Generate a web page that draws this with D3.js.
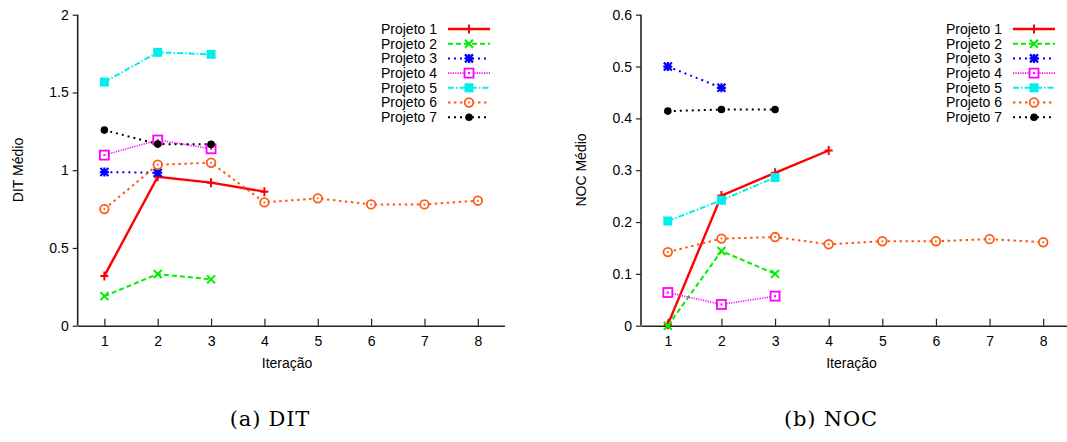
<!DOCTYPE html>
<html>
<head>
<meta charset="utf-8">
<script src="https://cdn.jsdelivr.net/npm/d3@7/dist/d3.min.js"></script>
<style>
  body { margin: 0; background: #fff; }
  svg { display: block; }
  text { font-family: "Liberation Sans", Arial, sans-serif; fill: #000; }
  .caption { font-family: "DejaVu Serif", "Liberation Serif", serif; }
</style>
</head>
<body>
<svg id="chart" width="1067" height="442"></svg>
<script>
// chart data
var iterations = [1, 2, 3, 4, 5, 6, 7, 8];
var projects = ["Projeto 1", "Projeto 2", "Projeto 3", "Projeto 4", "Projeto 5", "Projeto 6", "Projeto 7"];

var ditValues = [
    [0.32, 0.958, 0.92, 0.862],
    [0.19, 0.332, 0.298],
    [0.988, 0.984],
    [1.097, 1.194, 1.138],
    [1.567, 1.758, 1.745],
    [0.75, 1.035, 1.048, 0.793, 0.819, 0.78, 0.78, 0.804],
    [1.258, 1.168, 1.166]
];
var nocValues = [
    [0.002, 0.251, 0.295, 0.338],
    [0.0, 0.144, 0.1],
    [0.5, 0.459],
    [0.064, 0.041, 0.057],
    [0.202, 0.242, 0.286],
    [0.142, 0.168, 0.171, 0.157, 0.163, 0.163, 0.167, 0.161],
    [0.414, 0.417, 0.417]
];
var ditTicks = [0, 0.5, 1, 1.5, 2];
var nocTicks = [0, 0.1, 0.2, 0.3, 0.4, 0.5, 0.6];

// gnuplot-like line styles
var styles = [
    { color: "#ff0000", dash: null,        width: 2.4, mark: "plus" },
    { color: "#00ee00", dash: "5,3",       width: 2,   mark: "cross" },
    { color: "#0000ff", dash: "2,4",       width: 2,   mark: "star" },
    { color: "#ff00ff", dash: "1.2,1.2",   width: 1.6, mark: "box" },
    { color: "#00eeee", dash: "6,2,1.5,2", width: 2,   mark: "fbox" },
    { color: "#ff5a14", dash: "2.5,3.5",   width: 2,   mark: "circle" },
    { color: "#000000", dash: "2,4",       width: 2,   mark: "fcircle" }
];

var svg = d3.select("#chart");

function drawMarker (g, type, color) {
    if (type === "plus") {
        g.append("path").attr("d", "M-4,0H4M0,-4.5V4.5").attr("stroke", color).attr("stroke-width", 2).attr("fill", "none");
    } else if (type === "cross") {
        g.append("path").attr("d", "M-4,-4L4,4M-4,4L4,-4").attr("stroke", color).attr("stroke-width", 2).attr("fill", "none");
    } else if (type === "star") {
        g.append("path").attr("d", "M-4,-4L4,4M-4,4L4,-4M-4.5,0H4.5M0,-4.5V4.5").attr("stroke", color).attr("stroke-width", 2.2).attr("fill", "none");
    } else if (type === "box") {
        g.append("rect").attr("x", -4.5).attr("y", -4.5).attr("width", 9).attr("height", 9).attr("stroke", color).attr("stroke-width", 1.8).attr("fill", "#fff");
        g.append("rect").attr("x", -1).attr("y", -1).attr("width", 2).attr("height", 2).attr("fill", color);
    } else if (type === "fbox") {
        g.append("rect").attr("x", -4.5).attr("y", -4.5).attr("width", 9).attr("height", 9).attr("fill", color);
    } else if (type === "circle") {
        g.append("circle").attr("r", 4.3).attr("stroke", color).attr("stroke-width", 1.8).attr("fill", "#fff");
        g.append("circle").attr("r", 1).attr("fill", color);
    } else if (type === "fcircle") {
        g.append("circle").attr("r", 3.8).attr("fill", color);
    }
}

function drawPanel (opt) {
    var x = d3.scaleLinear().domain([0.5, 8.5]).range([opt.left, opt.right]);
    var y = d3.scaleLinear().domain([0, opt.ymax]).range([325.7, 14.7]);

    var g = svg.append("g");

    // axes
    var yAxis = g.append("g")
        .attr("transform", "translate(" + opt.left + ",0)")
        .call(d3.axisLeft(y).tickValues(opt.ticks).tickSize(4).tickPadding(5).tickFormat(d3.format("")));
    var xAxis = g.append("g")
        .attr("transform", "translate(0,325.7)")
        .call(d3.axisBottom(x).tickValues(iterations).tickSizeInner(-7).tickSizeOuter(0).tickPadding(10));
    [yAxis, xAxis].forEach(function (a) {
        a.select(".domain").attr("stroke", "#222").attr("stroke-width", 1.6);
        a.selectAll(".tick line").attr("stroke", "#222").attr("stroke-width", 1.2);
        a.selectAll("text").attr("font-size", 14).attr("font-family", "Liberation Sans, Arial, sans-serif").attr("fill", "#111");
    });
    yAxis.select(".domain").attr("d", "M0," + y(opt.ymax) + "V" + y(0));
    yAxis.selectAll(".tick line").attr("x2", -5);

    g.append("text")
        .attr("transform", "translate(" + opt.ytitleX + ",170) rotate(-90)")
        .attr("text-anchor", "middle")
        .attr("dy", "0.35em")
        .attr("font-size", 14)
        .text(opt.ytitle);
    g.append("text")
        .attr("x", (opt.left + opt.right) / 2 - 4)
        .attr("y", 363)
        .attr("text-anchor", "middle")
        .attr("dy", "0.35em")
        .attr("font-size", 14)
        .text("Iteração");

    // series
    var line = d3.line().x(function (d, i) { return x(iterations[i]); }).y(function (d) { return y(d); });
    opt.values.forEach(function (vals, k) {
        var s = styles[k];
        g.append("path")
            .attr("d", line(vals))
            .attr("fill", "none")
            .attr("stroke", s.color)
            .attr("stroke-width", s.width)
            .attr("stroke-dasharray", s.dash);
    });
    opt.values.forEach(function (vals, k) {
        vals.forEach(function (v, i) {
            var m = g.append("g").attr("transform", "translate(" + x(iterations[i]) + "," + y(v) + ")");
            drawMarker(m, styles[k].mark, styles[k].color);
        });
    });

    // legend
    projects.forEach(function (name, k) {
        var s = styles[k];
        var ly = 29 + k * 14.7;
        g.append("text")
            .attr("x", opt.legendX)
            .attr("y", ly)
            .attr("dy", "0.35em")
            .attr("text-anchor", "end")
            .attr("font-size", 14)
            .text(name);
        g.append("line")
            .attr("x1", opt.legendX + 11).attr("x2", opt.legendX + 53)
            .attr("y1", ly).attr("y2", ly)
            .attr("stroke", s.color)
            .attr("stroke-width", s.width)
            .attr("stroke-dasharray", s.dash);
        drawMarker(g.append("g").attr("transform", "translate(" + (opt.legendX + 32) + "," + ly + ")"), s.mark, s.color);
    });

    svg.append("text")
        .attr("class", "caption")
        .attr("x", opt.captionX)
        .attr("y", 426)
        .attr("text-anchor", "middle")
        .attr("font-size", 21)
        .attr("letter-spacing", 0.8)
        .text(opt.caption);
}

drawPanel({ left: 77.7, right: 504.5, ymax: 2, ticks: ditTicks, values: ditValues,
    ytitle: "DIT Médio", ytitleX: 18, legendX: 437, caption: "(a) DIT", captionX: 270 });
drawPanel({ left: 641, right: 1070, ymax: 0.6, ticks: nocTicks, values: nocValues,
    ytitle: "NOC Médio", ytitleX: 581, legendX: 1002, caption: "(b) NOC", captionX: 831 });
</script>
</body>
</html>
